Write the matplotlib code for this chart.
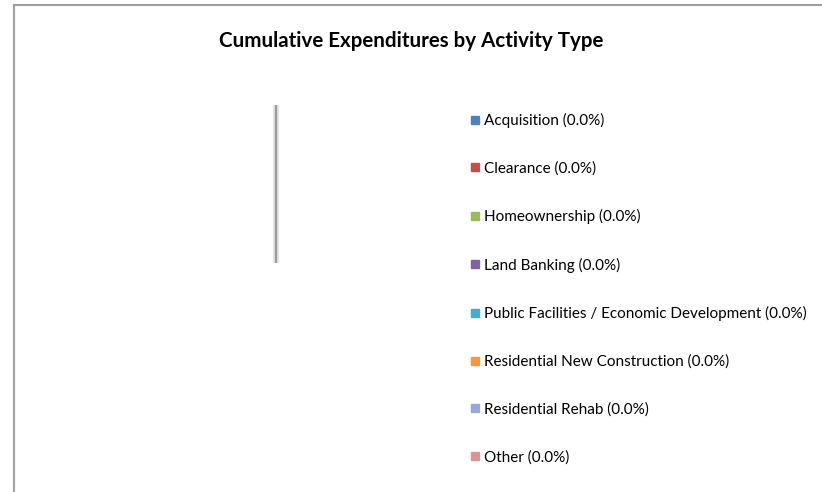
import matplotlib.pyplot as plt
from matplotlib.lines import Line2D

# datos del grafico (todos en cero)
categorias = ['Acquisition', 'Clearance', 'Homeownership', 'Land Banking',
              'Public Facilities / Economic Development',
              'Residential New Construction', 'Residential Rehab', 'Other']
valores = [0.0, 0.0, 0.0, 0.0, 0.0, 0.0, 0.0, 0.0]
colores = ['#4F81BD', '#C0504D', '#9BBB59', '#8064A2',
           '#4BACC6', '#F79646', '#95A9D7', '#D99694']

plt.rcParams['font.family'] = ['Lato', 'DejaVu Sans']

fig = plt.figure(figsize=(8.22, 4.92), dpi=100)
ax = fig.add_axes([0, 0, 1, 1])
ax.set_xlim(0, 822)
ax.set_ylim(492, 0)
ax.axis('off')

# marco del grafico (solo se ve arriba y a la izquierda)
ax.plot([14, 14], [5, 492], color='#a0a0a0', lw=1.5)
ax.plot([14, 822], [5, 5], color='#a0a0a0', lw=1.5)

ax.text(411, 41, 'Cumulative Expenditures by Activity Type', ha='center',
        va='center', fontsize=14.8, fontweight='bold')

# torta vacia: todo suma cero, queda solo el radio vertical
cx, cy, r = 276, 184, 79
total = sum(valores)
if total == 0:
    ax.plot([cx, cx], [cy - r, cy + r], color='#dcdcdc', lw=4, solid_capstyle='butt')
    ax.plot([cx, cx], [cy - r, cy + r], color='#999999', lw=1.4, solid_capstyle='butt')

handles = []
for cat, v, c in zip(categorias, valores, colores):
    pct = 0.0 if total == 0 else v / total * 100
    handles.append(Line2D([], [], marker='s', color=c, ls='', markersize=5.5,
                          label='%s (%.1f%%)' % (cat, pct)))

leg = ax.legend(handles=handles, loc='upper left', bbox_to_anchor=(471 / 822, 1 - 113 / 492),
                frameon=False, fontsize=11, labelspacing=2.185, handlelength=0.55,
                handletextpad=0.3, borderpad=0, borderaxespad=0)

fig.savefig('out.png', dpi=100)
